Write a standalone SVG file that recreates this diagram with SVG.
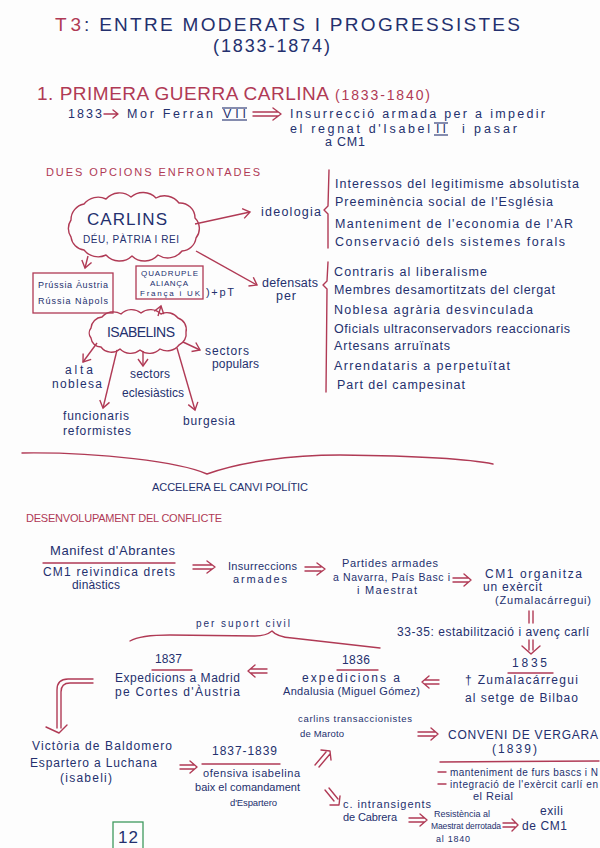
<svg xmlns="http://www.w3.org/2000/svg" width="600" height="848" viewBox="0 0 600 848">
<defs>
<style>
.n{font-family:"Liberation Sans","DejaVu Sans",sans-serif;fill:#24306e;font-size:12px}
.r{font-family:"Liberation Sans","DejaVu Sans",sans-serif;fill:#b03a55;font-size:12px}
.h{font-size:19px}
.s{font-size:10px}
.ln{fill:none;stroke:#b03a55;stroke-width:1.4;stroke-linecap:round;stroke-linejoin:round}
.nl{fill:none;stroke:#24306e;stroke-width:1.1}
.ar{fill:none;stroke:#b03a55;stroke-width:1.4;marker-end:url(#ah)}
</style>
<marker id="ah" markerWidth="12" markerHeight="12" refX="8" refY="6" orient="auto" markerUnits="userSpaceOnUse"><path d="M1,1 L8,6 L1,11" fill="none" stroke="#b03a55" stroke-width="1.4"/></marker>
</defs>
<rect width="600" height="848" fill="#fdfdfd"/>

<g id="title">
<text class="r h" x="55" y="31" textLength="26">T3</text>
<text class="n h" x="84" y="31" textLength="436">: ENTRE MODERATS I PROGRESSISTES</text>
<text class="n" style="font-size:18px" x="213" y="52" textLength="117">(1833-1874)</text>
</g>

<g id="section1">
<text class="r h" x="37" y="100" textLength="292">1. PRIMERA GUERRA CARLINA</text>
<text class="r" style="font-size:14px" x="335" y="100" textLength="95">(1833-1840)</text>
</g>

<g id="intro">
<text class="n" style="font-size:12.5px" x="68" y="118" textLength="34">1833</text>
<text class="n" style="font-size:12.5px" x="127" y="118" textLength="86">Mor Ferran</text>
<text class="n" style="font-size:12.5px" x="223" y="118" textLength="23">VII</text>
<line class="nl" x1="222" y1="108" x2="247" y2="108"/>
<line class="nl" x1="222" y1="120" x2="247" y2="120"/>
<text class="n" style="font-size:12.5px" x="290" y="118" textLength="255">Insurrecció armada per a impedir</text>
<text class="n" style="font-size:12.5px" x="290" y="133" textLength="140">el regnat d'Isabel</text>
<text class="n" style="font-size:12.5px" x="436" y="133" textLength="10">II</text>
<line class="nl" x1="434" y1="123" x2="448" y2="123"/>
<line class="nl" x1="434" y1="135" x2="448" y2="135"/>
<text class="n" style="font-size:12.5px" x="462" y="133" textLength="55">i pasar</text>
<text class="n" style="font-size:12.5px" x="325" y="146" textLength="40">a CM1</text>
</g>

<g id="dues-opcions">
<text class="r" style="font-size:11px" x="46" y="176" textLength="214">DUES OPCIONS ENFRONTADES</text>
</g>

<g id="carlins">
<path class="ln" d="M71,220 A16,16 0 0 1 84,204 A18,18 0 0 1 106,199 A18,18 0 0 1 131,197 A18,18 0 0 1 156,198 A18,18 0 0 1 179,203 A15,15 0 0 1 195,218 A15,15 0 0 1 196,238 A15,15 0 0 1 182,251 A18,18 0 0 1 158,255 A18,18 0 0 1 132,256 A18,18 0 0 1 106,255 A18,18 0 0 1 84,250 A15,15 0 0 1 71,237 A15,15 0 0 1 71,220 Z"/>
<text class="n" style="font-size:17px" x="87" y="225" textLength="80">CARLINS</text>
<text class="n s" x="83" y="243" textLength="96">DÉU, PÀTRIA I REI</text>
</g>

<g id="ideologia">
<text class="n" style="font-size:12.5px" x="261" y="216" textLength="60">ideologia</text>
</g>

<g id="ideologia-list">
<text class="n" style="font-size:12.5px" x="335" y="188" textLength="244">Interessos del legitimisme absolutista</text>
<text class="n" style="font-size:12.5px" x="335" y="206" textLength="218">Preeminència social de l'Església</text>
<text class="n" style="font-size:12.5px" x="335" y="228" textLength="238">Manteniment de l'economia de l'AR</text>
<text class="n" style="font-size:12.5px" x="335" y="246" textLength="230">Conservació dels sistemes forals</text>
</g>

<g id="defensats">
<text class="n" style="font-size:12.5px" x="262" y="287" textLength="56">defensats</text>
<text class="n" style="font-size:12.5px" x="276" y="300" textLength="20">per</text>
</g>

<g id="defensats-list">
<text class="n" style="font-size:12.5px" x="334" y="276" textLength="153">Contraris al liberalisme</text>
<text class="n" style="font-size:12.5px" x="334" y="294" textLength="221">Membres desamortitzats del clergat</text>
<text class="n" style="font-size:12.5px" x="334" y="314" textLength="199">Noblesa agrària desvinculada</text>
<text class="n" style="font-size:12.5px" x="334" y="333" textLength="236">Oficials ultraconservadors reaccionaris</text>
<text class="n" style="font-size:12.5px" x="334" y="350" textLength="116">Artesans arruïnats</text>
<text class="n" style="font-size:12.5px" x="334" y="370" textLength="176">Arrendataris a perpetuïtat</text>
<text class="n" style="font-size:12.5px" x="337" y="389" textLength="128">Part del campesinat</text>
</g>

<g id="box-potencies">
<rect x="33" y="273" width="80" height="40" fill="none" stroke="#b03a55" stroke-width="1.3"/>
<text class="n" style="font-size:9px" x="38" y="288" textLength="70">Prússia Àustria</text>
<text class="n" style="font-size:9px" x="38" y="304" textLength="70">Rússia Nàpols</text>
</g>

<g id="box-quadruple">
<rect x="136" y="266" width="67" height="33" fill="none" stroke="#b03a55" stroke-width="1.3"/>
<text class="n" style="font-size:8px" x="141" y="276" textLength="57">QUADRUPLE</text>
<text class="n" style="font-size:8px" x="150" y="286" textLength="38">ALIANÇA</text>
<text class="n" style="font-size:8px" x="140" y="296" textLength="60">França i UK</text>
<text class="n" style="font-size:11px" x="206" y="296" textLength="28">)+pT</text>
</g>

<g id="isabelins">
<path class="ln" d="M91,328 A12,12 0 0 1 102,317 A15,15 0 0 1 121,314 A15,15 0 0 1 141,313 A15,15 0 0 1 161,314 A14,14 0 0 1 178,318 A12,12 0 0 1 186,332 A12,12 0 0 1 179,345 A15,15 0 0 1 160,349 A15,15 0 0 1 140,350 A15,15 0 0 1 120,349 A13,13 0 0 1 101,347 A10,10 0 0 1 91,338 A8,8 0 0 1 91,328 Z"/>
<text class="n" style="font-size:14px" x="107" y="337" textLength="68">ISABELINS</text>
</g>

<g id="alta-noblesa">
<text class="n" x="65" y="374" textLength="28">alta</text>
<text class="n" x="52" y="388" textLength="50">noblesa</text>
</g>
<g id="funcionaris">
<text class="n" x="63" y="420" textLength="66">funcionaris</text>
<text class="n" x="63" y="435" textLength="68">reformistes</text>
</g>
<g id="sectors-eclesiastics">
<text class="n" x="130" y="378" textLength="40">sectors</text>
<text class="n" x="122" y="397" textLength="62">eclesiàstics</text>
</g>
<g id="burgesia">
<text class="n" x="183" y="425" textLength="52">burgesia</text>
</g>
<g id="sectors-populars">
<text class="n" x="205" y="355" textLength="44">sectors</text>
<text class="n" x="212" y="368" textLength="47">populars</text>
</g>

<g id="accelera">
<text class="n" style="font-size:11px" x="152" y="491" textLength="156">ACCELERA EL CANVI POLÍTIC</text>
</g>

<g id="desenvolupament">
<text class="r" style="font-size:11px" x="26" y="522" textLength="196">DESENVOLUPAMENT DEL CONFLICTE</text>
</g>

<g id="manifest">
<text class="n" style="font-size:13px" x="50" y="555" textLength="125">Manifest d'Abrantes</text>
<line class="ln" x1="43" y1="563" x2="175" y2="563"/>
<text class="n" x="43" y="576" textLength="132">CM1 reivindica drets</text>
<text class="n" x="72" y="589" textLength="48">dinàstics</text>
</g>

<g id="insurreccions">
<text class="n" style="font-size:11px" x="228" y="570" textLength="69">Insurreccions</text>
<text class="n" style="font-size:11px" x="233" y="583" textLength="54">armades</text>
</g>

<g id="partides">
<text class="n" style="font-size:11px" x="342" y="567" textLength="96">Partides armades</text>
<text class="n" style="font-size:10.5px" x="333" y="581" textLength="117">a Navarra, País Basc i</text>
<text class="n" style="font-size:11px" x="357" y="594" textLength="60">i Maestrat</text>
</g>

<g id="exercit">
<text class="n" x="485" y="578" textLength="97">CM1 organitza</text>
<text class="n" x="483" y="591" textLength="59">un exèrcit</text>
<text class="n" style="font-size:11px" x="495" y="604" textLength="96">(Zumalacárregui)</text>
</g>

<g id="estabilitzacio">
<text class="n" x="397" y="636" textLength="192">33-35: estabilització i avenç carlí</text>
</g>

<g id="suport-civil">
<text class="n" style="font-size:10px" x="196" y="627" textLength="94">per suport civil</text>
</g>

<g id="y1835">
<text class="n" x="512" y="667" textLength="35">1835</text>
<line class="ln" x1="508" y1="673" x2="553" y2="673"/>
<text class="n" x="465" y="684" textLength="113">† Zumalacárregui</text>
<text class="n" x="465" y="702" textLength="113">al setge de Bilbao</text>
</g>

<g id="y1836">
<text class="n" x="342" y="664" textLength="28">1836</text>
<line class="ln" x1="337" y1="670" x2="378" y2="670"/>
<text class="n" x="302" y="682" textLength="98">expedicions a</text>
<text class="n" style="font-size:11px" x="283" y="695" textLength="137">Andalusia (Miguel Gómez)</text>
</g>

<g id="y1837">
<text class="n" x="155" y="663" textLength="27">1837</text>
<line class="ln" x1="152" y1="670" x2="192" y2="670"/>
<text class="n" x="115" y="682" textLength="125">Expedicions a Madrid</text>
<text class="n" x="115" y="696" textLength="125">pe Cortes d'Àustria</text>
</g>

<g id="maroto">
<text class="n" style="font-size:9.5px" x="298" y="722" textLength="114">carlins transaccionistes</text>
<text class="n" style="font-size:9.5px" x="300" y="737" textLength="44">de Maroto</text>
</g>

<g id="vergara">
<text class="n" style="font-size:12px" x="448" y="739" textLength="150">CONVENI DE VERGARA</text>
<text class="n" x="492" y="753" textLength="45">(1839)</text>
<line class="ln" x1="440" y1="762" x2="599" y2="761"/>
<text class="n" style="font-size:10px" x="450" y="776" textLength="148">manteniment de furs bascs i N</text>
<text class="n" style="font-size:10px" x="450" y="788" textLength="148">integració de l'exèrcit carlí en</text>
<text class="n" style="font-size:11px" x="473" y="800" textLength="40">el Reial</text>
</g>

<g id="luchana">
<text class="n" x="32" y="750" textLength="140">Victòria de Baldomero</text>
<text class="n" x="30" y="767" textLength="127">Espartero a Luchana</text>
<text class="n" x="60" y="782" textLength="52">(isabeli)</text>
</g>

<g id="ofensiva">
<text class="n" x="212" y="755" textLength="65">1837-1839</text>
<line class="ln" x1="202" y1="764" x2="280" y2="764"/>
<text class="n" style="font-size:11px" x="203" y="777" textLength="97">ofensiva isabelina</text>
<text class="n" style="font-size:11px" x="195" y="791" textLength="105">baix el comandament</text>
<text class="n" style="font-size:9.5px" x="230" y="806" textLength="47">d'Espartero</text>
</g>

<g id="cabrera">
<text class="n" style="font-size:11px" x="343" y="808" textLength="88">c. intransigents</text>
<text class="n" style="font-size:11px" x="343" y="821" textLength="54">de Cabrera</text>
</g>

<g id="resistencia">
<text class="n" style="font-size:9px" x="434" y="817" textLength="56">Resistència al</text>
<text class="n" style="font-size:8.5px" x="431" y="829" textLength="70">Maestrat derrotada</text>
<text class="n" style="font-size:9px" x="436" y="842" textLength="34">al 1840</text>
</g>

<g id="exili">
<text class="n" x="540" y="815" textLength="23">exili</text>
<text class="n" x="522" y="830" textLength="45">de CM1</text>
</g>

<g id="page-number">
<rect x="113" y="822" width="30" height="30" fill="none" stroke="#3f9a5f" stroke-width="1.3"/>
<text class="n" style="font-size:17px" x="118" y="843" textLength="20">12</text>
</g>

<g id="connectors">
<path class="ln" d="M104,114 H118 M113,110 L118,114 L113,118"/>
<path class="ln" d="M253,112 H278 M253,116 H278 M273,108 L281,114 L273,120"/>
<path class="ar" d="M195,224 Q222,218 250,212"/>
<path class="ar" d="M196,251 L257,285"/>
<path class="ar" d="M88,256 L85,268"/>
<path class="ar" d="M158,316 L161,306"/>
<path class="ar" d="M97,343 L83,362"/>
<path class="ar" d="M117,350 L103,408"/>
<path class="ar" d="M143,351 L143,366"/>
<path class="ar" d="M177,348 L195,410"/>
<path class="ar" d="M183,342 L200,350"/>
<path class="ln" d="M329,170 L328,206 L324,210 L328,214 L328,248"/>
<path class="ln" d="M328,262 L327,281 L323,285 L327,289 L326,392"/>
<path class="ln" d="M22,453 C100,452 180,462 207,474 C240,462 290,455 340,455 C420,456 470,459 493,464"/>
<path class="ln" d="M193,565 H212 M193,569 H212 M207,561 L215,567 L207,573"/>
<path class="ln" d="M305,567 H321 M305,571 H321 M317,563 L325,569 L317,575"/>
<path class="ln" d="M453,578 H468 M453,582 H468 M464,574 L471,580 L464,586"/>
<path class="ln" d="M529,611 L529,623 M533,611 L533,623"/>
<path class="ln" d="M130,641 Q140,635 170,635 L255,636 Q266,636 272,631 Q277,637 292,638 L380,648"/>
<path class="ln" d="M529,640 L529,650 M533,640 L533,650 M522,646 L531,654 L540,646"/>
<path class="ln" d="M425,680 H439 M425,684 H439 M429,676 L422,682 L429,688"/>
<path class="ln" d="M251,669 H267 M251,673 H267 M255,665 L248,671 L255,677"/>
<path class="ln" d="M93,679 L68,679 Q57,679 57,690 L57,728 M93,683 L70,683 Q61,683 61,692 L61,728 M46,727 L59,733 L67,725"/>
<path class="ln" d="M418,732 H435 M418,736 H435 M431,728 L438,734 L431,740"/>
<path class="ln" d="M180,765 H194 M180,769 H194 M190,761 L197,767 L190,773"/>
<path class="ln" d="M438,772 H446 M438,784 H446"/>
<path class="ln" d="M315,765 L326,752 M319,767 L330,754 M321,750 L330,751 L331,760"/>
<path class="ln" d="M325,790 L334,801 M329,788 L338,799 M330,805 L339,805 L340,796"/>
<path class="ln" d="M409,818 H424 M409,822 H424 M420,814 L427,820 L420,826"/>
<path class="ln" d="M503,823 H515 M503,827 H515 M512,819 L518,825 L512,831"/>
</g>
</svg>
